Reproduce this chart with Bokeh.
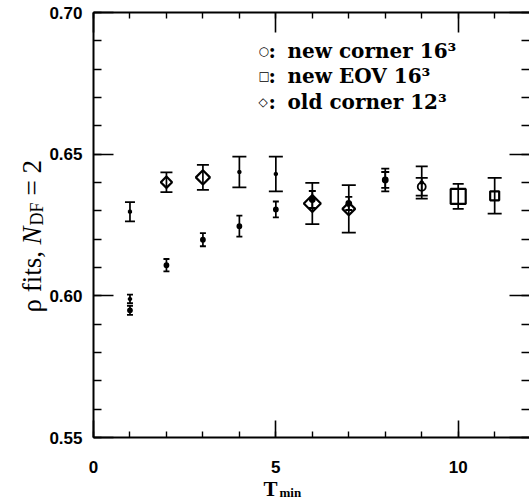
import numpy as np
from math import pi
from bokeh.plotting import figure
from bokeh.models import (ColumnDataSource, LinearAxis, FixedTicker, Label,
                          PrintfTickFormatter, CustomJSTickFormatter)
from bokeh.embed import file_html
from bokeh.resources import INLINE

# ---------------- data ----------------
# new corner 16^3  (circles)
corner16_x = [1, 2, 3, 4, 5, 6, 7, 8, 9]
corner16_y = [0.5949, 0.6108, 0.6198, 0.6246, 0.6305, 0.6340, 0.6326, 0.6409, 0.6385]
corner16_err = [0.0016, 0.0022, 0.0023, 0.0037, 0.0028, 0.0030, 0.0023, 0.0028, 0.0031]

# new EOV 16^3  (squares)
eov16_x = [1, 4, 5, 8, 9, 10, 11]
eov16_y = [0.6297, 0.6437, 0.6430, 0.6409, 0.6400, 0.6351, 0.6353]
eov16_err = [0.0034, 0.0054, 0.0061, 0.0040, 0.0057, 0.0044, 0.0063]

# old corner 12^3  (diamonds)
old12_x = [1, 2, 3, 6, 7]
old12_y = [0.5989, 0.6401, 0.6418, 0.6326, 0.6307]
old12_err = [0.0015, 0.0035, 0.0044, 0.0073, 0.0084]

x_major_ticks = [0, 5, 10]
y_major_ticks = [0.55, 0.60, 0.65, 0.70]

legend_symbols = ["\u25cb", "\u25a1", "\u25c7"]
legend_texts = ["new corner 16\u00b3", "new EOV 16\u00b3", "old corner 12\u00b3"]

# ---------------- styles ----------------
corner16_marker_size = [4, 4, 4, 4, 4, 5, 5, 5, 8]
corner16_fill = ["black"] * 8 + [None]
corner16_cap = [6, 6, 6, 6, 6, 7, 7, 8, 12]
eov16_marker_size = [2, 2, 2, 3, 2, 15, 9]
eov16_cap = [10, 14, 14, 8, 12, 11, 14]
old12_marker_size = [2, 8, 10, 12, 9]   # square rotated 45 deg
old12_cap = [6, 12, 12, 14, 14]

# ---------------- layout geometry (pixels) ----------------
W, H = 529, 501
FRAME_L, FRAME_T, FRAME_B = 93, 12, 437      # where the axes box sits
X_HI = 11.955
x_scale = (W - FRAME_L) / X_HI
y_scale = (FRAME_B - FRAME_T) / (0.70 - 0.55)
x_lo = -FRAME_L / x_scale
y_lo = 0.55 - (H - FRAME_B) / y_scale
y_hi = 0.70 + FRAME_T / y_scale

p = figure(width=W, height=H, x_range=(x_lo, X_HI), y_range=(y_lo, y_hi),
           output_backend="svg", toolbar_location=None, min_border=0,
           background_fill_color="white", border_fill_color="white")
p.outline_line_color = None
p.grid.visible = False

minor_x = list(range(0, 13))
minor_y = list(np.round(np.arange(0.55, 0.7001, 0.01), 3))
blank = CustomJSTickFormatter(code="return ''")


def style_axis(ax, major_in, minor_in, labels=True):
    ax.major_tick_in = major_in
    ax.major_tick_out = 0
    ax.minor_tick_in = minor_in
    ax.minor_tick_out = 0
    ax.axis_line_width = 2
    ax.axis_line_color = "black"
    ax.major_tick_line_width = 1.6
    ax.minor_tick_line_width = 1.4
    ax.major_tick_line_color = "black"
    ax.minor_tick_line_color = "black"
    ax.major_label_text_font = "Liberation Sans"
    ax.major_label_text_font_style = "bold"
    ax.major_label_text_font_size = "17px"
    ax.major_label_text_color = "black"
    if not labels:
        ax.formatter = blank
        ax.major_label_standoff = 0


xa = p.xaxis[0]
xa.ticker = FixedTicker(ticks=x_major_ticks, minor_ticks=minor_x)
style_axis(xa, 17, 6)
xa.major_label_standoff = 23
xa.fixed_location = 0.55
xa.bounds = (0, X_HI)

ya = p.yaxis[0]
ya.ticker = FixedTicker(ticks=y_major_ticks, minor_ticks=minor_y)
ya.formatter = PrintfTickFormatter(format="%.2f")
style_axis(ya, 20, 8)
ya.major_label_standoff = 11
ya.fixed_location = 0
ya.bounds = (0.55, 0.70)

top = LinearAxis(ticker=FixedTicker(ticks=x_major_ticks, minor_ticks=minor_x),
                 fixed_location=0.70, bounds=(0, X_HI))
style_axis(top, 20, 6, labels=False)
p.add_layout(top, "above")

right = LinearAxis(ticker=FixedTicker(ticks=y_major_ticks, minor_ticks=minor_y),
                   fixed_location=X_HI, bounds=(0.55, 0.70))
style_axis(right, 20, 8, labels=False)
right.axis_line_color = None
p.add_layout(right, "right")


def error_series(xs, ys, errs, caps):
    ys = np.array(ys)
    errs = np.array(errs)
    src = ColumnDataSource(dict(x=xs, lo=ys - errs, hi=ys + errs, cap=caps))
    p.segment(x0="x", y0="lo", x1="x", y1="hi", source=src,
              line_color="black", line_width=1.7)
    p.scatter(x="x", y="hi", marker="dash", size="cap", source=src,
              line_color="black", line_width=1.8)
    p.scatter(x="x", y="lo", marker="dash", size="cap", source=src,
              line_color="black", line_width=1.8)


error_series(corner16_x, corner16_y, corner16_err, corner16_cap)
error_series(eov16_x, eov16_y, eov16_err, eov16_cap)
error_series(old12_x, old12_y, old12_err, old12_cap)

p.scatter(x="x", y="y", size="s", fill_color="f", line_color="black",
          line_width=1.8, marker="circle",
          source=ColumnDataSource(dict(x=corner16_x, y=corner16_y,
                                       s=corner16_marker_size, f=corner16_fill)))
p.scatter(x=eov16_x, y=eov16_y, size=eov16_marker_size, marker="square",
          fill_color=None, line_color="black", line_width=2.2)
p.scatter(x=old12_x, y=old12_y, size=old12_marker_size, marker="square",
          angle=pi / 4, fill_color=None, line_color="black", line_width=2.2)


def lbl(text, px, py, size, font="Liberation Serif", style="normal", angle=0.0):
    """px, py: page pixel position (from top-left) of the text baseline start."""
    p.add_layout(Label(x=px, y=H - py, x_units="screen", y_units="screen", text=text,
                       text_font=font, text_font_size=f"{size}px",
                       text_font_style=style, angle=angle, text_align="left",
                       text_baseline="alphabetic", text_color="black"))


# legend (text in the upper right of the box)
for i, (sym, txt) in enumerate(zip(legend_symbols, legend_texts)):
    yb = 50 + 25.5 * i
    lbl(sym, 258, yb, 12, font="DejaVu Sans", style="bold")
    lbl(":", 268, yb, 20, font="DejaVu Serif", style="bold")
    lbl(txt, 287, yb, 20, font="DejaVu Serif", style="bold")

# y axis label: rho fits, N_DF = 2  (rotated, reads upward)
lbl("\u03c1 fits,", 31, 312, 27, angle=pi / 2)
lbl("N", 31, 244, 27, style="italic", angle=pi / 2)
lbl("DF", 36, 225, 18, angle=pi / 2)
lbl("= 2", 31, 195, 27, angle=pi / 2)

# x axis label: T_min
lbl("T", 263, 488, 21, style="bold")
lbl("min", 279, 492, 13, style="bold")

open("out.html", "w").write(file_html(p, INLINE))
